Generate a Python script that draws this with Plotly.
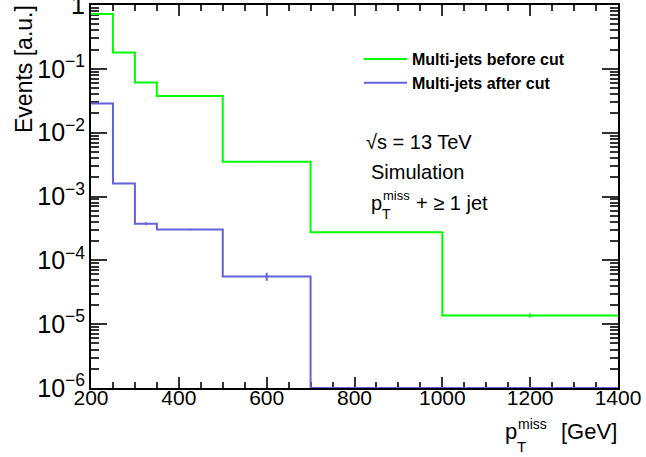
import numpy as np
import plotly.graph_objects as go

# missing-pT bin edges [GeV]
bin_edges = [200, 250, 300, 350, 500, 700, 1000, 1400]

# normalised event yields per bin
before_cut = [0.72, 0.181, 0.0612, 0.0375, 3.5e-3, 2.76e-4, 1.37e-5]
before_err = [0.006, 0.002, 0.0012, 0.0005, 6e-5, 8e-6, 1e-6]
after_cut = [0.0287, 1.6e-3, 3.75e-4, 3.05e-4, 5.6e-5, 0.0, 0.0]
after_err = [3e-4, 4e-5, 2e-5, 8e-6, 8e-6, 0.0, 0.0]

ymin_exp, ymax_exp = -6, 0
green = '#00ff00'
blue = '#6262dc'
font_main = 'Liberation Sans, Arial, sans-serif'

edges = np.array(bin_edges, dtype=float)
centers = 0.5 * (edges[1:] + edges[:-1])

fig = go.Figure()


def add_hist(vals, errs, color, name):
    vals = np.array(vals)
    floor = 10 ** ymin_exp
    shown = np.where(vals > 0, vals, floor)
    fig.add_trace(go.Scatter(
        x=edges, y=np.append(shown, shown[-1]),
        mode='lines', line=dict(color=color, width=2, shape='hv'),
        name='<b>' + name + '</b>', hoverinfo='skip'))
    ok = vals > 0
    fig.add_trace(go.Scatter(
        x=centers[ok], y=vals[ok], mode='markers',
        marker=dict(size=1, color=color),
        error_y=dict(type='data', array=np.array(errs)[ok], color=color,
                     thickness=2, width=0),
        showlegend=False, hoverinfo='skip'))


add_hist(before_cut, before_err, green, 'Multi-jets before cut')
add_hist(after_cut, after_err, blue, 'Multi-jets after cut')

# plot frame in pixels: x 91..618, y 5..388
L, R, T, B = 91, 618, 5, 388
W, H = R - L, B - T


def px(x):
    return (x - L) / W


def py(y):
    return (B - y) / H


axis_common = {
    'ticks': 'inside', 'tickwidth': 1.5, 'tickcolor': '#333333',
    'showline': True, 'linecolor': 'black', 'linewidth': 2,
    'mirror': 'ticks', 'showgrid': False, 'zeroline': False,
    'layer': 'below traces',
    'automargin': False, 'ticklabeloverflow': 'allow',
}

fig.update_layout(
    width=646, height=457,
    template='simple_white',
    paper_bgcolor='white', plot_bgcolor='white',
    margin={'l': L, 'r': 646 - R, 't': T, 'b': 457 - B},
    font={'family': font_main, 'color': 'black'},
    showlegend=True,
    legend={'x': px(359), 'xanchor': 'left',
            'y': py(42), 'yanchor': 'top',
            'font': {'size': 16, 'family': font_main},
            'bgcolor': 'rgba(0,0,0,0)', 'borderwidth': 0,
            'itemwidth': 43, 'tracegroupgap': 0},
    xaxis=dict(axis_common, range=[200, 1400], dtick=200, tick0=200,
               ticklen=11, ticklabelstandoff=-10, tickfont={'size': 21},
               minor={'dtick': 50, 'ticks': 'inside', 'ticklen': 6,
                      'tickwidth': 1.5, 'tickcolor': '#333333'}),
    yaxis=dict(axis_common, type='log', range=[ymin_exp, ymax_exp],
               dtick=1, exponentformat='power', ticklen=16,
               tickfont={'size': 20}, ticklabelstandoff=0,
               minor={'dtick': 'D1', 'ticks': 'inside', 'ticklen': 8,
                      'tickwidth': 1.5, 'tickcolor': '#333333'}),
)

# axis titles (ROOT style: right / top aligned)
fig.add_annotation(text='Events [a.u.]', textangle=-90, font_size=23,
                   xref='paper', yref='paper', x=px(24), y=py(3),
                   xanchor='center', yanchor='top', showarrow=False)
fig.add_annotation(text='[GeV]', font_size=22, xref='paper', yref='paper',
                   x=px(619), y=py(432), xanchor='right', yanchor='middle',
                   showarrow=False)
fig.add_annotation(text='p', font_size=22, xref='paper', yref='paper',
                   x=px(503), y=py(432), xanchor='left', yanchor='middle',
                   showarrow=False)
fig.add_annotation(text='miss', font_size=14, xref='paper', yref='paper',
                   x=px(516), y=py(424), xanchor='left', yanchor='middle',
                   showarrow=False)
fig.add_annotation(text='T', font_size=15, xref='paper', yref='paper',
                   x=px(515), y=py(446), xanchor='left', yanchor='middle',
                   showarrow=False)

# info text
fig.add_annotation(text='\u221as = 13 TeV', font_size=20, xref='paper',
                   yref='paper', x=px(364), y=py(142), xanchor='left',
                   yanchor='middle', showarrow=False)
fig.add_annotation(text='Simulation', font_size=20, xref='paper',
                   yref='paper', x=px(369), y=py(172), xanchor='left',
                   yanchor='middle', showarrow=False)
fig.add_annotation(text='p', font_size=20, xref='paper', yref='paper',
                   x=px(369), y=py(203), xanchor='left', yanchor='middle',
                   showarrow=False)
fig.add_annotation(text='miss', font_size=13, xref='paper', yref='paper',
                   x=px(381), y=py(195), xanchor='left', yanchor='middle',
                   showarrow=False)
fig.add_annotation(text='T', font_size=14, xref='paper', yref='paper',
                   x=px(380), y=py(214), xanchor='left', yanchor='middle',
                   showarrow=False)
fig.add_annotation(text='+ \u2265 1 jet', font_size=20, xref='paper',
                   yref='paper', x=px(414), y=py(203), xanchor='left',
                   yanchor='middle', showarrow=False)

fig.write_html('out.html', config={'displayModeBar': False},
               post_script="document.body.style.margin='0';")
